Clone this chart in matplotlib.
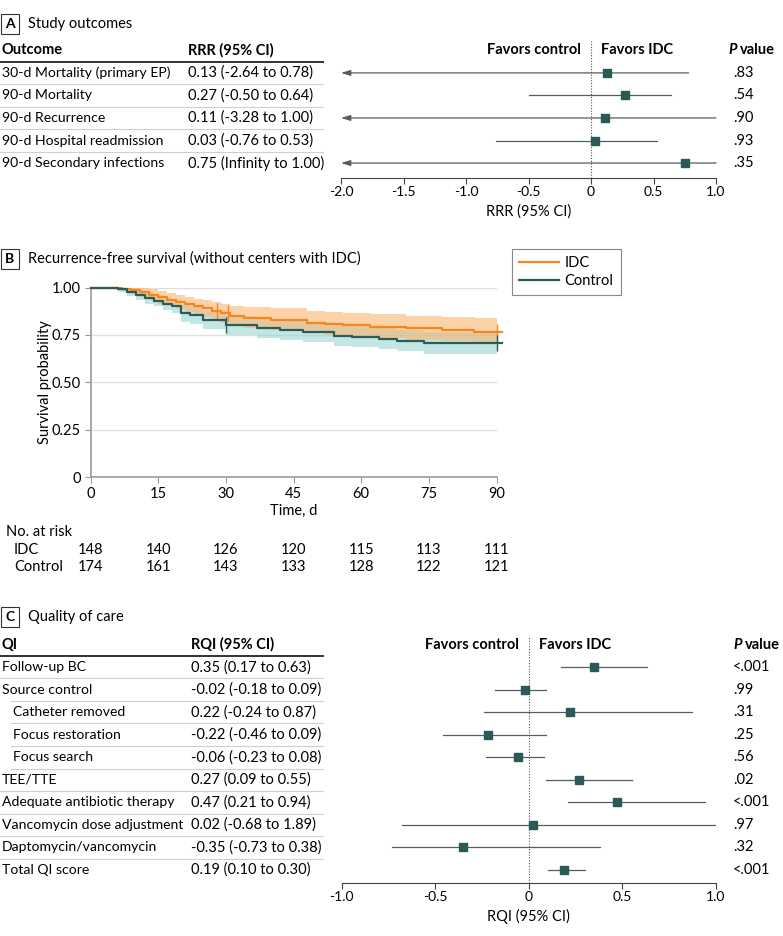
import numpy as np
import matplotlib
matplotlib.use("Agg")
import matplotlib.pyplot as plt
import matplotlib.transforms as mtransforms
from matplotlib.lines import Line2D

plt.rcParams['font.family'] = ['Lato', 'DejaVu Sans']
plt.rcParams['axes.unicode_minus'] = False

# ---- panel A data
outcomes = ["30-d Mortality (primary EP)", "90-d Mortality", "90-d Recurrence",
            "90-d Hospital readmission", "90-d Secondary infections"]
rrr = [0.13, 0.27, 0.11, 0.03, 0.75]
rrr_lo = [-2.64, -0.50, -3.28, -0.76, -np.inf]
rrr_hi = [0.78, 0.64, 1.00, 0.53, 1.00]
rrr_p = [".83", ".54", ".90", ".93", ".35"]

# ---- panel B data (Kaplan-Meier)
idc_t = [0, 7, 9, 11, 13, 15, 17, 19, 21, 23, 25, 27, 29, 31, 34, 40, 48, 52, 56, 62, 70, 78, 85, 90]
idc_s = [1.0, 0.993, 0.986, 0.975, 0.962, 0.948, 0.935, 0.925, 0.912, 0.9, 0.89, 0.878,
         0.865, 0.852, 0.838, 0.83, 0.815, 0.808, 0.8, 0.792, 0.785, 0.776, 0.768, 0.768]
idc_hi = [1.0, 1.0, 1.0, 0.995, 0.99, 0.98, 0.97, 0.962, 0.952, 0.942, 0.934, 0.925,
          0.915, 0.905, 0.895, 0.89, 0.878, 0.872, 0.865, 0.86, 0.852, 0.845, 0.838, 0.838]
idc_lo = [1.0, 0.98, 0.968, 0.95, 0.933, 0.915, 0.9, 0.885, 0.87, 0.855, 0.843, 0.83,
          0.815, 0.8, 0.785, 0.775, 0.76, 0.752, 0.745, 0.735, 0.726, 0.716, 0.705, 0.705]
idc_cens = [28, 30.5, 90]

ctl_t = [0, 6, 8, 10, 12, 14, 16, 18, 20, 22, 25, 30, 37, 42, 47, 54, 58, 64, 68, 74, 90]
ctl_s = [1.0, 0.99, 0.975, 0.96, 0.945, 0.93, 0.915, 0.9, 0.866, 0.855, 0.83, 0.8,
         0.785, 0.775, 0.765, 0.745, 0.74, 0.73, 0.72, 0.71, 0.705]
ctl_hi = [1.0, 1.0, 0.995, 0.985, 0.975, 0.962, 0.95, 0.937, 0.91, 0.9, 0.877, 0.85,
          0.836, 0.827, 0.818, 0.8, 0.795, 0.786, 0.777, 0.768, 0.765]
ctl_lo = [1.0, 0.975, 0.955, 0.935, 0.915, 0.9, 0.88, 0.865, 0.82, 0.808, 0.782, 0.75,
          0.735, 0.724, 0.712, 0.69, 0.684, 0.674, 0.663, 0.652, 0.645]
ctl_cens = [30, 90]

risk_t = [0, 15, 30, 45, 60, 75, 90]
idc_risk = [148, 140, 126, 120, 115, 113, 111]
ctl_risk = [174, 161, 143, 133, 128, 122, 121]

# ---- panel C data
qi = ["Follow-up BC", "Source control", "Catheter removed", "Focus restoration",
      "Focus search", "TEE/TTE", "Adequate antibiotic therapy",
      "Vancomycin dose adjustment", "Daptomycin/vancomycin", "Total QI score"]
qi_indent = [0, 0, 1, 1, 1, 0, 0, 0, 0, 0]
rqi = [0.35, -0.02, 0.22, -0.22, -0.06, 0.27, 0.47, 0.02, -0.35, 0.19]
rqi_lo = [0.17, -0.18, -0.24, -0.46, -0.23, 0.09, 0.21, -0.68, -0.73, 0.10]
rqi_hi = [0.63, 0.09, 0.87, 0.09, 0.08, 0.55, 0.94, 1.89, 0.38, 0.30]
rqi_p = ["<.001", ".99", ".31", ".25", ".56", ".02", "<.001", ".97", ".32", "<.001"]

W, H = 783, 936
fig = plt.figure(figsize=(W / 100, H / 100), dpi=100)


def fx(p):
    return p / W


def fy(p):
    return 1 - p / H


def add_ax(left, top, right, bottom):
    return fig.add_axes([fx(left), fy(bottom), (right - left) / W, (bottom - top) / H])


TXT = 10.5
NAME = 10.1
SQ = '#2b5956'
LN = '#555e5e'


def panel_label(letter, title, y):
    fig.text(fx(10), fy(y), letter, fontsize=10, fontweight='bold', va='center', ha='center',
             bbox=dict(boxstyle='square,pad=0.3', fc='white', ec='#333333', lw=0.8))
    fig.text(fx(28), fy(y), title, fontsize=TXT, va='center', ha='left')


def fmt(v):
    if np.isinf(v):
        return "Infinity"
    return f"{v:.2f}"


def forest(ax, names, est, lo, hi, pv, xmin, xmax, ticks, ticklabels, xlabel,
           col2, phdr, fav_gap, indent=None, hdr=("", "")):
    n = len(names)
    tr = mtransforms.blended_transform_factory(fig.transFigure, ax.transData)
    ax.set_xlim(xmin, xmax)
    for i in range(n):
        l, h = lo[i], hi[i]
        hc = min(h, xmax)
        if l < xmin:
            ax.annotate('', xy=(xmin, i), xytext=(hc, i),
                        arrowprops=dict(arrowstyle='-|>,head_length=0.55,head_width=0.17',
                                        color=LN, lw=0.9, shrinkA=0, shrinkB=0))
        else:
            ax.plot([l, hc], [i, i], color=LN, lw=0.9)
        ax.plot(est[i], i, 's', color=SQ, ms=6, zorder=3)
        ind = 11 if (indent and indent[i]) else 0
        fig.text(fx(2 + ind), i, names[i], transform=tr, fontsize=NAME, va='center')
        fig.text(fx(col2), i, f"{fmt(est[i])} ({fmt(l)} to {fmt(h)})",
                 transform=tr, fontsize=TXT, va='center')
        fig.text(fx(733), i, pv[i], transform=tr, fontsize=TXT, va='center')
        if i < n - 1:
            ind2 = 11 if (indent and (indent[i] or indent[i + 1])) else 0
            fig.add_artist(Line2D([fx(ind2), fx(323)], [i + 0.5, i + 0.5], transform=tr,
                                  color='#cfcfcf', lw=0.8))
    # header row
    fig.text(fx(2), -1, hdr[0], transform=tr, fontsize=TXT, fontweight='bold', va='center')
    fig.text(fx(col2), -1, hdr[1], transform=tr, fontsize=TXT, fontweight='bold', va='center')
    fig.add_artist(Line2D([fx(0), fx(323)], [-0.5, -0.5], transform=tr, color='#333333', lw=1.4))
    ax.text(-fav_gap, -1, "Favors control", fontsize=TXT, fontweight='bold', ha='right', va='center')
    ax.text(fav_gap, -1, "Favors IDC", fontsize=TXT, fontweight='bold', ha='left', va='center')
    fig.text(fx(phdr), -1, "P", transform=tr, fontsize=TXT, fontweight='bold', fontstyle='italic',
             va='center')
    fig.text(fx(phdr + 12), -1, "value", transform=tr, fontsize=TXT, fontweight='bold', va='center')
    ax.axvline(0, color='#555555', lw=0.8, ls=(0, (1, 1.5)))
    for s in ['top', 'right', 'left']:
        ax.spines[s].set_visible(False)
    ax.spines['bottom'].set_color('#444444')
    ax.spines['bottom'].set_linewidth(0.8)
    ax.set_yticks([])
    ax.set_xticks(ticks)
    ax.set_xticklabels(ticklabels, fontsize=TXT - 0.5)
    ax.tick_params(axis='x', length=4, color='#444444', pad=2)
    ax.set_xlabel(xlabel, fontsize=TXT, labelpad=4)


# ---------------- Panel A
panel_label("A", "Study outcomes", 24)
axA = add_ax(341, 40, 716, 178)
nA = len(outcomes)
pitchA = 22.6
axA.set_ylim(nA - 1 + (178 - 163) / pitchA, -(73 - 40) / pitchA)
forest(axA, outcomes, rrr, rrr_lo, rrr_hi, rrr_p, -2.0, 1.0,
       [-2.0, -1.5, -1.0, -0.5, 0, 0.5, 1.0],
       ["-2.0", "-1.5", "-1.0", "-0.5", "0", "0.5", "1.0"], "RRR (95% CI)",
       188, 728, 0.078, hdr=("Outcome", "RRR (95% CI)"))

# ---------------- Panel B
panel_label("B", "Recurrence-free survival (without centers with IDC)", 259)
axB = add_ax(90.5, 287.5, 496.5, 477.3)
axB.set_xlim(0, 90)
axB.set_ylim(0, 1)
C_IDC = '#f7861f'
C_CTL = '#2d5a5a'
axB.fill_between(ctl_t, ctl_lo, ctl_hi, step='post', color='#8fd3cf', alpha=0.55, lw=0)
axB.fill_between(idc_t, idc_lo, idc_hi, step='post', color='#fbb46e', alpha=0.6, lw=0)
t_ext_i = idc_t + [91.2]
s_ext_i = idc_s + [idc_s[-1]]
t_ext_c = ctl_t + [91.2]
s_ext_c = ctl_s + [ctl_s[-1]]
axB.step(t_ext_i, s_ext_i, where='post', color=C_IDC, lw=1.6, clip_on=False, zorder=4)
axB.step(t_ext_c, s_ext_c, where='post', color=C_CTL, lw=1.6, clip_on=False, zorder=5)


def surv_at(ts, ss, t):
    k = np.searchsorted(ts, t, side='right') - 1
    return ss[k]


axB.plot(idc_cens, [surv_at(idc_t, idc_s, c) for c in idc_cens], '|', color=C_IDC, ms=11,
         mew=1, clip_on=False, zorder=4)
axB.plot(ctl_cens, [surv_at(ctl_t, ctl_s, c) for c in ctl_cens], '|', color=C_CTL, ms=11,
         mew=1, clip_on=False, zorder=5)
axB.set_yticks([0, 0.25, 0.5, 0.75, 1.0])
axB.set_yticklabels(["0", "0.25", "0.50", "0.75", "1.00"], fontsize=TXT)
axB.set_xticks(risk_t)
axB.set_xticklabels([str(t) for t in risk_t], fontsize=TXT)
axB.grid(axis='y', color='#e0e0e0', lw=1)
axB.set_axisbelow(True)
for s in ['top', 'right']:
    axB.spines[s].set_visible(False)
for s in ['left', 'bottom']:
    axB.spines[s].set_color('#9a9a9a')
    axB.spines[s].set_linewidth(1.2)
axB.tick_params(length=4, color='#9a9a9a', pad=3)
axB.set_ylabel("Survival probability", fontsize=TXT)
axB.yaxis.set_label_coords((45 - 90.5) / 406, 0.5)
axB.yaxis.label.set_va('center')
axB.set_xlabel("Time, d", fontsize=TXT)
axB.xaxis.set_label_coords(0.5, (477.3 - 511) / 189.8)
axB.xaxis.label.set_va('center')
legB = fig.legend([Line2D([], [], color=C_IDC, lw=1.6), Line2D([], [], color=C_CTL, lw=1.6)],
                  ["IDC", "Control"], loc='upper left', bbox_to_anchor=(fx(512), fy(249)),
                  borderaxespad=0, fancybox=False, edgecolor='#888888',
                  prop={'size': TXT}, handlelength=2.7, handletextpad=0.4,
                  labelspacing=0.25, borderpad=0.5, framealpha=1)
legB.get_frame().set_linewidth(0.8)
trR = mtransforms.blended_transform_factory(axB.transData, fig.transFigure)
fig.text(fx(6), fy(532), "No. at risk", fontsize=TXT, va='center')
fig.text(fx(14), fy(550), "IDC", fontsize=TXT, va='center')
fig.text(fx(14), fy(567), "Control", fontsize=TXT, va='center')
for t, a, b in zip(risk_t, idc_risk, ctl_risk):
    fig.text(t, fy(550), str(a), transform=trR, fontsize=TXT, ha='center', va='center')
    fig.text(t, fy(567), str(b), transform=trR, fontsize=TXT, ha='center', va='center')

# ---------------- Panel C
panel_label("C", "Quality of care", 617)
axC = add_ax(341.7, 636, 716, 883)
nC = len(qi)
pitchC = 22.5
axC.set_ylim(nC - 1 + (883 - 870) / pitchC, -(667 - 636) / pitchC)
forest(axC, qi, rqi, rqi_lo, rqi_hi, rqi_p, -1.0, 1.0,
       [-1.0, -0.5, 0, 0.5, 1.0], ["-1.0", "-0.5", "0", "0.5", "1.0"], "RQI (95% CI)",
       191, 733, 0.053, indent=qi_indent, hdr=("QI", "RQI (95% CI)"))

fig.savefig("out.png", dpi=100)
